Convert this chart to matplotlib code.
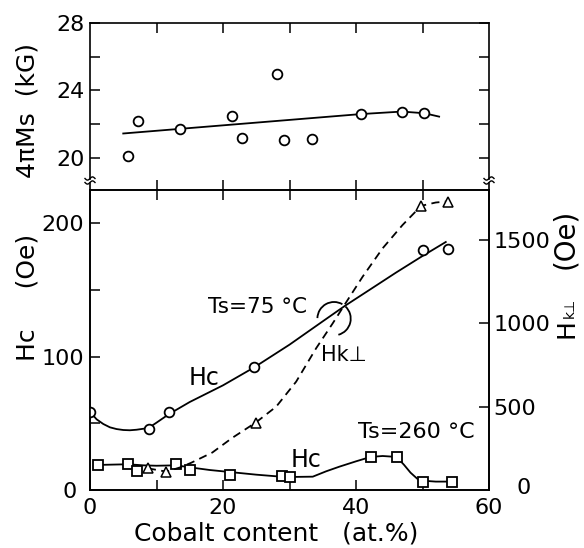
import numpy as np
import matplotlib
matplotlib.use('Agg')
import matplotlib.pyplot as plt
from matplotlib.patches import Arc
from matplotlib.transforms import Affine2D, ScaledTranslation

# ---------------- data ----------------
# top panel: 4piMs (kG)
ms_x = [5.7, 7.2, 13.5, 21.4, 22.9, 28.1, 29.2, 33.4, 40.7, 46.9, 50.3]
ms_y = [20.1, 22.2, 21.7, 22.5, 21.2, 25.0, 21.05, 21.1, 22.6, 22.7, 22.65]
ms_fit_x = [5.0, 40.7, 46.9, 50.3, 52.5]
ms_fit_y = [21.45, 22.6, 22.75, 22.65, 22.45]

# Hc, Ts = 75 C (left axis, Oe)
hc75_x = [0.0, 8.8, 11.9, 24.7, 50.0, 53.9]
hc75_y = [58.6, 45.9, 58.6, 92.0, 179.7, 180.5]
hc75_fit_x = [0, 1, 2, 3, 4, 5, 6, 7, 8.8, 10, 11.9, 15, 20, 24.7, 30, 35, 38.3, 42, 46, 50, 53.5]
hc75_fit_y = [58.6, 53, 49.5, 47, 45.7, 45, 44.8, 45.2, 46.5, 50.5, 57, 66, 78.5, 92,
              109, 126.5, 138, 150, 163, 175.5, 186]

# Hk_perp (right axis, Oe)
hk_x = [8.7, 11.5, 24.9, 49.8, 53.9]
hk_y = [130, 110, 404, 1705, 1729]
hk_fit_x = [8.7, 11.5, 13.5, 15.2, 18.4, 21.4, 24.9, 28, 31, 34, 36.5, 38.5, 41, 44, 47, 49.8, 52, 53.9]
hk_fit_y = [130, 110, 135, 163, 225, 313, 404, 500, 650, 850, 1000, 1125, 1280, 1450,
            1590, 1705, 1725, 1732]

# Hc, Ts = 260 C (left axis, Oe)
hc260_x = [1.2, 5.7, 7.0, 13.0, 15.0, 21.0, 28.8, 30.1, 42.2, 46.1, 50.0, 54.5]
hc260_y = [18.8, 19.3, 14.5, 19.5, 15.0, 11.3, 10.2, 9.8, 24.8, 24.8, 6.0, 6.0]
hc260_fit_x = [1.2, 5.7, 8, 10, 13, 15, 18, 22, 25, 28.7, 30.5, 33.5, 35.5, 37.5, 40, 42.2,
               44, 46.1, 47.2, 48.2, 49.2, 50, 52, 54.5]
hc260_fit_y = [18.8, 19.3, 18.5, 18.2, 18.5, 17, 15, 13, 11.5, 10, 9.8, 10, 14, 17.5, 21.5,
               24.8, 25.5, 24.8, 19, 13, 8.5, 7, 6.3, 6.3]

W, H = 584, 548
fig = plt.figure(figsize=(W / 100, H / 100), dpi=100)
plt.rcParams['font.family'] = ['DejaVu Sans']

def fx(px):
    return px / W

def fy(py):
    return 1 - py / H

LW = 1.3
FS = 16
FSL = 18

# axes geometry (pixels)
L, R = 90, 489
T1, B1 = 23, 190
B2 = 490
ax1 = fig.add_axes([fx(L), fy(B1), fx(R) - fx(L), fy(T1) - fy(B1)])
ax2 = fig.add_axes([fx(L), fy(B2), fx(R) - fx(L), fy(B1) - fy(B2)])
ax3 = ax2.twinx()

for a in (ax1, ax2, ax3):
    for s in a.spines.values():
        s.set_linewidth(1.2)
    a.tick_params(direction='in', length=7, width=1.1, labelsize=FS, pad=4)

# ---------- top panel ----------
ax1.plot(ms_fit_x, ms_fit_y, color='black', lw=LW)
ax1.plot(ms_x, ms_y, 'o', mfc='white', mec='black', ms=7, mew=1.3)
ax1.set_xlim(0, 60)
ax1.set_ylim(18.1, 28)
ax1.set_xticks([10, 20, 30, 40, 50])
ax1.tick_params(axis='x', top=True, bottom=True, labelbottom=False)
ax1.set_yticks([20, 22, 24, 26, 28])
ax1.set_yticklabels(['20', '', '24', '', '28'])
ax1.tick_params(axis='y', left=True, right=True)
ax1.spines['bottom'].set_visible(False)
ax1.spines['left'].set_bounds(18.75, 28)
ax1.spines['right'].set_bounds(18.75, 28)

# ---------- lower panel ----------
ax2.plot(hc75_fit_x, hc75_fit_y, color='black', lw=LW)
ax2.plot(hc75_x, hc75_y, 'o', mfc='white', mec='black', ms=7, mew=1.3, zorder=3)
ax2.plot(hc260_fit_x, hc260_fit_y, color='black', lw=LW)
ax2.plot(hc260_x, hc260_y, 's', mfc='white', mec='black', ms=7, mew=1.3, zorder=3)
ax2.set_xlim(0, 60)
ax2.set_ylim(0, 225)
ax2.set_xticks([0, 10, 20, 30, 40, 50, 60])
ax2.set_xticklabels(['0', '', '20', '', '40', '', '60'])
ax2.tick_params(axis='x', top=True, bottom=True, pad=6)
ax2.set_yticks([0, 50, 100, 150, 200])
ax2.set_yticklabels(['', '', '100', '', '200'])

ax3.plot(hk_fit_x, hk_fit_y, color='black', lw=LW, ls=(0, (4.5, 3)))
ax3.plot(hk_x, hk_y, '^', mfc='white', mec='black', ms=6.5, mew=1.1, zorder=3)
ax3.set_ylim(0, 1800)
ax3.set_yticks([500, 1000, 1500])
ax3.set_yticklabels(['500', '1000', '1500'])
ax3.tick_params(axis='y', pad=3)

# axis titles
fig.text(fx(27), fy(110), '4πMs  (kG)', rotation=90, ha='center', va='center', fontsize=FSL)
fig.text(fx(27), fy(297), 'Hc     (Oe)', rotation=90, ha='center', va='center', fontsize=FSL)
fig.text(fx(276), fy(533), 'Cobalt content   (at.%)', ha='center', va='center', fontsize=18)
fig.text(fx(565), fy(239), '(Oe)', rotation=90, ha='center', va='center', fontsize=20)
fig.text(fx(574), fy(338), 'H', rotation=90, rotation_mode='anchor',
         ha='left', va='baseline', fontsize=FSL)
fig.text(fx(574), fy(318), 'k⊥', rotation=90, rotation_mode='anchor',
         ha='left', va='baseline', fontsize=10)

# zero labels placed individually
fig.text(fx(70), fy(492), '0', ha='center', va='center', fontsize=FS)
fig.text(fx(524), fy(488), '0', ha='center', va='center', fontsize=FS)

# annotations
ax2.text(17.2, 84, 'Hc', fontsize=17, ha='center', va='center')
ax2.text(25.2, 137.5, 'Ts=75 °C', fontsize=15.5, ha='center', va='center')
ax2.text(38.2, 101, 'Hk⊥', fontsize=15, ha='center', va='center')
ax2.text(32.5, 22.5, 'Hc', fontsize=17, ha='center', va='center')
ax2.text(49.0, 43.5, 'Ts=260 °C', fontsize=FS, ha='center', va='center')

# bracket circle at the crossing (size in points, centred on a data point)
tr = Affine2D().scale(100 / 72) + ScaledTranslation(36.7, 128.5, ax2.transData)
ax2.add_patch(Arc((0, 0), 24, 24, theta1=60, theta2=178, transform=tr, color='black', lw=LW))
ax2.add_patch(Arc((0, 0), 24, 24, theta1=-75, theta2=47, transform=tr, color='black', lw=LW))

# axis break marks + spine continuation
def brk(xp, yp):
    t = np.linspace(-1, 1, 20)
    for dy in (0, 4):
        xs = xp + 5 * t
        ys = yp + dy - 1.6 * np.sin(np.pi * t)
        fig.add_artist(plt.Line2D([fx(v) for v in xs], [fy(v) for v in ys],
                                  color='black', lw=1.0))

for xp in (L, R):
    fig.add_artist(plt.Line2D([fx(xp), fx(xp)], [fy(183), fy(B1)], color='black', lw=1.2))
    brk(xp, 178.5)

fig.savefig('out.png', dpi=100)
